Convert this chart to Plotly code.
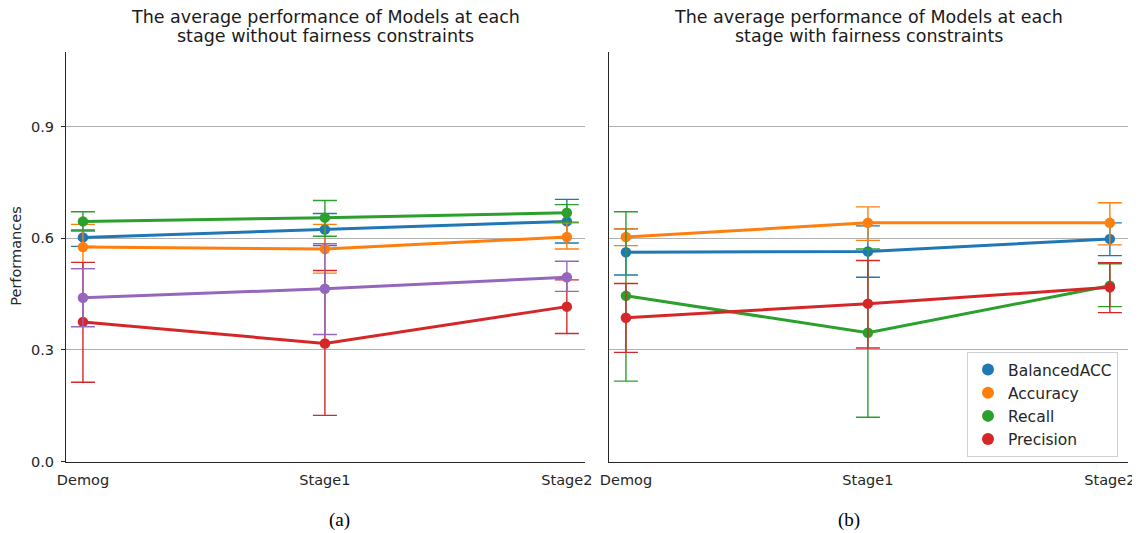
import numpy as np
import plotly.graph_objects as go

stages = ["Demog", "Stage1", "Stage2"]
metric_names = ["BalancedACC", "Accuracy", "Recall", "Precision"]
extra_name = "F1"

# Panel (a): without fairness constraints  (mean, lower CI, upper CI)
a_bacc = [0.602, 0.623, 0.645]
a_bacc_lo = [0.578, 0.580, 0.587]
a_bacc_hi = [0.622, 0.666, 0.704]
a_acc = [0.576, 0.571, 0.603]
a_acc_lo = [0.518, 0.506, 0.571]
a_acc_hi = [0.637, 0.637, 0.641]
a_rec = [0.645, 0.655, 0.668]
a_rec_lo = [0.619, 0.605, 0.643]
a_rec_hi = [0.671, 0.701, 0.690]
a_prec = [0.375, 0.317, 0.416]
a_prec_lo = [0.213, 0.124, 0.344]
a_prec_hi = [0.535, 0.513, 0.488]
a_f1 = [0.440, 0.464, 0.495]
a_f1_lo = [0.362, 0.341, 0.457]
a_f1_hi = [0.518, 0.585, 0.538]

# Panel (b): with fairness constraints
b_bacc = [0.562, 0.564, 0.598]
b_bacc_lo = [0.501, 0.495, 0.553]
b_bacc_hi = [0.625, 0.633, 0.641]
b_acc = [0.603, 0.641, 0.641]
b_acc_lo = [0.580, 0.594, 0.582]
b_acc_hi = [0.625, 0.684, 0.695]
b_rec = [0.445, 0.346, 0.472]
b_rec_lo = [0.216, 0.119, 0.416]
b_rec_hi = [0.671, 0.571, 0.531]
b_prec = [0.386, 0.424, 0.468]
b_prec_lo = [0.293, 0.305, 0.400]
b_prec_hi = [0.478, 0.540, 0.534]

y_ticks = [0.0, 0.3, 0.6, 0.9]

title_a = ["The average performance of Models at each", "stage without fairness constraints"]
title_b = ["The average performance of Models at each", "stage with fairness constraints"]

colors = {"BalancedACC": "#1f77b4", "Accuracy": "#ff7f0e", "Recall": "#2ca02c",
          "Precision": "#d62728", "F1": "#9467bd"}

fig = go.Figure()


def add_series(name, mean, lo, hi, xa, ya):
    mean = np.array(mean); lo = np.array(lo); hi = np.array(hi)
    c = colors[name]
    fig.add_trace(go.Scatter(
        x=stages, y=mean, name=name, mode="lines+markers",
        line=dict(color=c, width=3),
        marker=dict(color=c, size=10.5),
        error_y=dict(type="data", symmetric=False, array=hi - mean, arrayminus=mean - lo,
                     color=c, thickness=1.4, width=12),
        xaxis=xa, yaxis=ya, showlegend=False))


a_series = [("BalancedACC", a_bacc, a_bacc_lo, a_bacc_hi),
            ("Accuracy", a_acc, a_acc_lo, a_acc_hi),
            ("Recall", a_rec, a_rec_lo, a_rec_hi),
            ("Precision", a_prec, a_prec_lo, a_prec_hi),
            (extra_name, a_f1, a_f1_lo, a_f1_hi)]
b_series = [("BalancedACC", b_bacc, b_bacc_lo, b_bacc_hi),
            ("Accuracy", b_acc, b_acc_lo, b_acc_hi),
            ("Recall", b_rec, b_rec_lo, b_rec_hi),
            ("Precision", b_prec, b_prec_lo, b_prec_hi)]

for s in a_series:
    add_series(*s, "x", "y")
for s in b_series:
    add_series(*s, "x2", "y2")

# legend-only marker entries
for name in metric_names:
    fig.add_trace(go.Scatter(x=[None], y=[None], name=name, mode="markers",
                             marker=dict(color=colors[name], size=10.5),
                             xaxis="x2", yaxis="y2", showlegend=True))

# page body has an 8px margin: figure covers window pixels 8..1140 x 8..533
OFF = 8
W, H = 1140 - OFF, 533 - OFF


def px(x):
    return (x - OFF) / W


def py(y):
    return 1 - (y - OFF) / H


x1 = [px(66), px(585)]
x2 = [px(609), px(1128)]
yd = [py(461.5), py(52)]

axis_font = dict(family="DejaVu Sans", size=14.5, color="#262626")
common_x = dict(type="category", range=[-0.07, 2.075], showgrid=False, showline=True,
                linecolor="#262626", linewidth=1.2, ticks="", tickfont=axis_font,
                ticklabelstandoff=5,
                zeroline=False, fixedrange=True, automargin=False)
common_y = dict(range=[0, 1.1], tickvals=y_ticks, ticktext=[f"{v:.1f}" for v in y_ticks],
                showgrid=True, gridcolor="#b0b0b0", gridwidth=1, showline=True,
                linecolor="#262626", linewidth=1.2, ticklen=4, ticklabelstandoff=4,
                tickcolor="#262626", tickfont=axis_font, zeroline=False, automargin=False)

fig.update_layout(
    width=W, height=H,
    margin=dict(l=0, r=0, t=0, b=0),
    plot_bgcolor="white", paper_bgcolor="white",
    font=dict(family="DejaVu Sans", color="#262626"),
    xaxis=dict(domain=x1, anchor="y", **common_x),
    yaxis=dict(domain=yd, anchor="x", ticks="outside", **common_y),
    xaxis2=dict(domain=x2, anchor="y2", **common_x),
    yaxis2=dict(domain=yd, anchor="x2", showticklabels=False, ticks="", **common_y),
    legend=dict(x=px(1118), y=py(457), xanchor="right", yanchor="bottom",
                bgcolor="white", bordercolor="#d0d0d0", borderwidth=1,
                font=dict(family="DejaVu Sans", size=15.5, color="#262626"),
                tracegroupgap=0, itemsizing="constant"),
    showlegend=True,
)

fig.add_annotation(text="Performances", x=px(16), y=(yd[0] + yd[1]) / 2, xref="paper", yref="paper",
                   xanchor="center", yanchor="middle", textangle=-90, showarrow=False, font=axis_font)

title_font = dict(family="DejaVu Sans", size=17.5, color="#1a1a1a")
for lines, dom in ((title_a, x1), (title_b, x2)):
    for line, yc in zip(lines, (17, 36)):
        fig.add_annotation(text=line, x=(dom[0] + dom[1]) / 2, y=py(yc), xref="paper", yref="paper",
                           xanchor="center", yanchor="middle", showarrow=False, font=title_font)

label_font = dict(family="Liberation Serif", size=19, color="black")
fig.add_annotation(text="(a)", x=px(339), y=py(520), xref="paper", yref="paper",
                   xanchor="center", yanchor="middle", showarrow=False, font=label_font)
fig.add_annotation(text="(b)", x=px(849), y=py(520), xref="paper", yref="paper",
                   xanchor="center", yanchor="middle", showarrow=False, font=label_font)

fig.write_html("out.html")
